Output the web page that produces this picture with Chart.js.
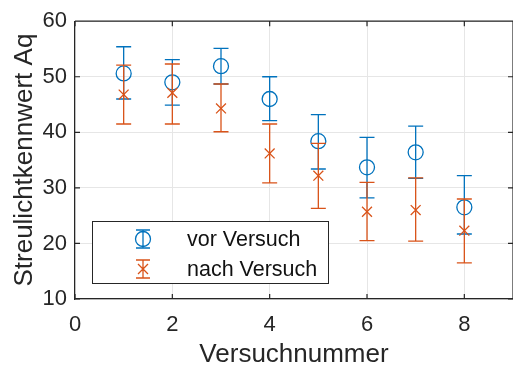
<!DOCTYPE html>
<html>
<head>
<meta charset="utf-8">
<script src="https://cdn.jsdelivr.net/npm/chart.js@4/dist/chart.umd.min.js"></script>
<style>
  html, body { margin: 0; padding: 0; background: #fff; }
  #wrap { width: 513px; height: 371px; }
</style>
</head>
<body>
<div id="wrap"><canvas id="c" width="513" height="371"></canvas></div>
<script>
// Versuchnummer
const versuche = [1, 2, 3, 4, 5, 6, 7, 8];
// vor Versuch: Mittelwert, unteres und oberes Fehlerende
const vorMittel = [50.6, 49.0, 51.9, 46.0, 38.4, 33.7, 36.4, 26.5];
const vorUnten  = [46.0, 44.9, 48.7, 42.1, 33.4, 28.2, 31.7, 21.7];
const vorOben   = [55.4, 53.1, 55.1, 50.0, 43.2, 39.1, 41.1, 32.2];
// nach Versuch
const nachMittel = [46.8, 47.1, 44.3, 36.2, 32.2, 25.7, 26.0, 22.3];
const nachUnten  = [41.5, 41.5, 40.1, 30.9, 26.3, 20.5, 20.4, 16.5];
const nachOben   = [52.1, 52.3, 48.7, 41.5, 38.0, 31.0, 31.8, 28.0];
// Achsen
const xTicks = [0, 2, 4, 6, 8];
const yTicks = [10, 20, 30, 40, 50, 60];

const BLAU = '#0072BD';
const ORANGE = '#D95319';
const ACHSE = '#262626';
const GITTER = '#e6e6e6';
const FONT = '"Liberation Sans", Arial, sans-serif';

const punkte = (ys) => versuche.map((x, i) => ({ x: x, y: ys[i] }));

// Fehlerbalken vor den Markern des jeweiligen Datensatzes zeichnen
const fehlerbalken = {
  id: 'fehlerbalken',
  beforeDatasetDraw(chart, args) {
    const ds = chart.data.datasets[args.index];
    const xs = chart.scales.x, ys = chart.scales.y;
    const ctx = chart.ctx;
    ctx.save();
    ctx.strokeStyle = ds.borderColor;
    ctx.lineWidth = 1.3;
    ds.unten.forEach((lo, i) => {
      const px = xs.getPixelForValue(versuche[i]);
      const y0 = ys.getPixelForValue(lo);
      const y1 = ys.getPixelForValue(ds.oben[i]);
      ctx.beginPath();
      ctx.moveTo(px, y0); ctx.lineTo(px, y1);
      ctx.moveTo(px - 7.5, y0); ctx.lineTo(px + 7.5, y0);
      ctx.moveTo(px - 7.5, y1); ctx.lineTo(px + 7.5, y1);
      ctx.stroke();
    });
    ctx.restore();
  }
};

// Rahmen, Teilstriche nach innen und Legende im Diagramm
const rahmen = {
  id: 'rahmen',
  afterDraw(chart) {
    const { ctx, chartArea: a, scales } = chart;
    ctx.save();
    ctx.strokeStyle = ACHSE;
    ctx.lineWidth = 1.2;
    ctx.beginPath();
    ctx.moveTo(a.left, a.top); ctx.lineTo(a.right, a.top);
    ctx.moveTo(a.right, a.top); ctx.lineTo(a.right, a.bottom);
    xTicks.forEach(v => {
      const px = scales.x.getPixelForValue(v);
      ctx.moveTo(px, a.bottom); ctx.lineTo(px, a.bottom - 5);
      ctx.moveTo(px, a.top); ctx.lineTo(px, a.top + 5);
    });
    yTicks.forEach(v => {
      const py = scales.y.getPixelForValue(v);
      ctx.moveTo(a.left, py); ctx.lineTo(a.left + 5, py);
      ctx.moveTo(a.right, py); ctx.lineTo(a.right - 5, py);
    });
    ctx.stroke();

    // Legende
    const bx = 92, by = 221, bw = 236, bh = 62;
    ctx.fillStyle = '#fff';
    ctx.fillRect(bx, by, bw, bh);
    ctx.strokeStyle = ACHSE;
    ctx.lineWidth = 1;
    ctx.strokeRect(bx + 0.5, by + 0.5, bw, bh);
    const zeilen = [239, 269];
    chart.data.datasets.forEach((ds, i) => {
      const cx = 143, cy = zeilen[i];
      ctx.strokeStyle = ds.borderColor;
      ctx.lineWidth = 1.3;
      ctx.beginPath();
      ctx.moveTo(cx, cy - 9); ctx.lineTo(cx, cy + 9);
      ctx.moveTo(cx - 7, cy - 9); ctx.lineTo(cx + 7, cy - 9);
      ctx.moveTo(cx - 7, cy + 9); ctx.lineTo(cx + 7, cy + 9);
      if (ds.pointStyle === 'circle') {
        ctx.moveTo(cx + 7.5, cy);
        ctx.arc(cx, cy, 7.5, 0, Math.PI * 2);
      } else {
        ctx.moveTo(cx - 5, cy - 5); ctx.lineTo(cx + 5, cy + 5);
        ctx.moveTo(cx - 5, cy + 5); ctx.lineTo(cx + 5, cy - 5);
      }
      ctx.stroke();
      ctx.fillStyle = '#111';
      ctx.font = '21.5px ' + FONT;
      ctx.textBaseline = 'middle';
      ctx.textAlign = 'left';
      ctx.fillText(ds.label, 187, cy + 1);
    });
    ctx.restore();
  }
};

new Chart(document.getElementById('c'), {
  type: 'scatter',
  data: {
    datasets: [
      {
        label: 'vor Versuch',
        data: punkte(vorMittel),
        unten: vorUnten,
        oben: vorOben,
        borderColor: BLAU,
        backgroundColor: 'rgba(0,0,0,0)',
        pointStyle: 'circle',
        pointRadius: 7.5,
        pointBorderWidth: 1.3,
        order: 1
      },
      {
        label: 'nach Versuch',
        data: punkte(nachMittel),
        unten: nachUnten,
        oben: nachOben,
        borderColor: ORANGE,
        backgroundColor: 'rgba(0,0,0,0)',
        pointStyle: 'crossRot',
        pointRadius: 7,
        pointBorderWidth: 1.3,
        order: 0
      }
    ]
  },
  options: {
    responsive: false,
    animation: false,
    events: [],
    layout: { autoPadding: false, padding: { top: 18, right: -2, left: 0, bottom: 0 } },
    plugins: { legend: { display: false }, tooltip: { enabled: false } },
    scales: {
      x: {
        type: 'linear',
        min: 0, max: 9,
        afterBuildTicks: s => { s.ticks = xTicks.map(v => ({ value: v })); },
        afterFit: s => { s.height = 72; },
        grid: { color: GITTER, drawTicks: false },
        border: { color: ACHSE, width: 1.2 },
        ticks: { color: '#262626', font: { family: FONT, size: 22 }, padding: 13, maxRotation: 0 },
        title: { display: true, text: 'Versuchnummer', color: '#262626',
                 font: { family: FONT, size: 26 }, padding: { top: 0, bottom: 1 } }
      },
      y: {
        min: 10, max: 60,
        afterBuildTicks: s => { s.ticks = yTicks.map(v => ({ value: v })); },
        afterFit: s => { s.width = 75; },
        grid: { color: GITTER, drawTicks: false },
        border: { color: ACHSE, width: 1.2 },
        ticks: { color: '#262626', font: { family: FONT, size: 22 }, padding: 8 },
        title: { display: true, text: 'Streulichtkennwert Aq', color: '#262626',
                 font: { family: FONT, size: 26 }, padding: { top: 9, bottom: 0 } }
      }
    }
  },
  plugins: [fehlerbalken, rahmen]
});
</script>
</body>
</html>
